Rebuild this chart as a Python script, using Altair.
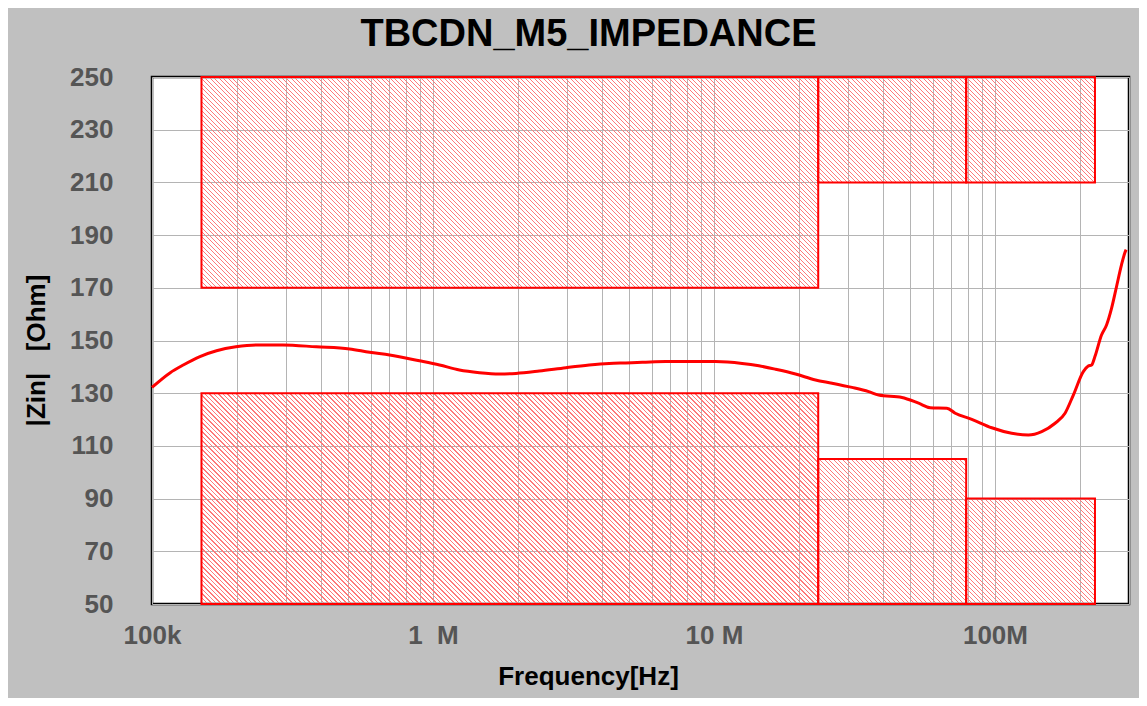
import math
import pandas as pd
import altair as alt

# ---------------- data ----------------
freq_hz = [1.0e5, 1.158e5, 1.292e5, 1.481e5, 1.697e5, 1.988e5, 2.355e5, 2.92e5, 3.847e5,
           5.05e5, 5.95e5, 7.01e5, 8.95e5, 1.055e6, 1.242e6, 1.463e6, 1.723e6, 1.975e6,
           2.389e6, 2.973e6, 3.597e6, 4.236e6, 4.857e6, 5.565e6, 6.737e6, 8.374e6, 1.014e7,
           1.26e7, 1.445e7, 1.657e7, 1.951e7, 2.298e7, 2.632e7, 3.099e7, 3.553e7, 3.856e7,
           4.667e7, 5.35e7, 5.886e7, 6.744e7, 7.222e7, 8.272e7, 9.742e7, 1.147e8, 1.315e8,
           1.467e8, 1.637e8, 1.776e8, 1.901e8, 2.063e8, 2.148e8, 2.208e8, 2.269e8, 2.395e8,
           2.496e8, 2.6e8, 2.708e8, 2.821e8, 2.9e8, 2.93e8]
zin_ohm = [132.2, 137.7, 140.7, 143.9, 146.1, 147.6, 148.3, 148.3, 147.6,
           146.8, 145.5, 144.5, 142.3, 140.7, 138.8, 137.8, 137.3, 137.5,
           138.4, 139.7, 140.7, 141.3, 141.5, 141.7, 142.0, 142.0, 142.0,
           141.3, 140.4, 139.1, 137.3, 135.0, 133.8, 132.2, 130.6, 129.3,
           128.4, 126.2, 124.5, 124.3, 122.4, 120.1, 116.9, 114.8, 114.1,
           115.4, 118.6, 122.4, 129.3, 138.2, 140.3, 140.7, 143.9, 152.1,
           155.9, 162.2, 170.4, 178.7, 183.3, 184.5]

# mask boxes (forbidden regions)
box_f_start = [1.5e5, 2.35e7, 7.9e7, 1.5e5, 2.35e7, 7.9e7]
box_f_end = [2.35e7, 7.9e7, 2.27e8, 2.35e7, 7.9e7, 2.27e8]
box_low = [170, 210, 210, 50, 50, 50]
box_high = [250, 250, 250, 130, 105, 90]

x_domain = [1e5, 3e8]
y_domain = [50, 250]
x_grid_values = [m * 10 ** e for e in (5, 6, 7) for m in range(1, 10)] + [1e8, 2e8, 3e8]
y_tick_values = list(range(50, 251, 20))

# ---------------- layout / style ----------------
W, H = 977, 527
FONT = "Liberation Sans"
RED = "#ff0000"


def px_x(f):
    return W * (math.log10(f) - math.log10(x_domain[0])) / (math.log10(x_domain[1]) - math.log10(x_domain[0]))


def px_y(v):
    return H * (v - y_domain[0]) / (y_domain[1] - y_domain[0])


def hatch(w, h, period=4.5, thick=1.1, color="#ff7a7a"):
    """45 degree '\\' hatch as a linear gradient relative to the rect bbox."""
    L = w + h
    c = L * w / (w * w + h * h)
    clear = "rgba(255,255,255,0)"
    stops = [{"offset": 0, "color": clear}]
    i = 0
    while True:
        a = (i * period + 1.5) / L
        b = a + thick / L
        if b >= 1:
            break
        a, b = round(a, 6), round(b, 6)
        stops += [{"offset": a, "color": clear}, {"offset": a, "color": color},
                  {"offset": b, "color": color}, {"offset": b, "color": clear}]
        i += 1
    stops.append({"offset": 1, "color": clear})
    return {"gradient": "linear", "x1": 0, "y1": 1, "x2": round(c, 6),
            "y2": round(1 - c * h / w, 6), "stops": stops}


label_expr = ("datum.value == 100000 ? '100k' : datum.value == 1000000 ? '1\u00a0\u00a0M' : "
              "datum.value == 10000000 ? '10\u00a0M' : datum.value == 100000000 ? '100M' : ''")

x_axis = alt.Axis(values=x_grid_values, labelExpr=label_expr, grid=True, ticks=False, domain=False,
                  labelFlush=False, labelOverlap=False, labelPadding=18,
                  labelFont=FONT, labelFontSize=26, labelFontWeight="bold", labelColor="#555555",
                  gridColor="#b4b4b4", gridWidth=1,
                  title="Frequency[Hz]", titleFont=FONT, titleFontSize=26, titleFontWeight="bold",
                  titleColor="#000000", titleX=436, titleY=80, titleAlign="center",
                  titleBaseline="alphabetic", titleAnchor="start")
y_axis = alt.Axis(values=y_tick_values, grid=True, ticks=False, domain=False, labelPadding=39,
                  labelFont=FONT, labelFontSize=26, labelFontWeight="bold", labelColor="#555555",
                  gridColor="#b4b4b4", gridWidth=1,
                  title="|Zin|\u00a0\u00a0\u00a0[Ohm]", titleFont=FONT, titleFontSize=26,
                  titleFontWeight="bold", titleColor="#000000", titleAngle=270,
                  titleX=-116, titleY=273, titleAlign="center", titleBaseline="middle",
                  titleAnchor="start")

x_scale = alt.Scale(type="log", domain=x_domain, nice=False)
y_scale = alt.Scale(domain=y_domain, nice=False, zero=False)

layers = []
for i in range(len(box_f_start)):
    df = pd.DataFrame({"f": [box_f_start[i]], "f2": [box_f_end[i]],
                       "lo": [box_low[i]], "hi": [box_high[i]]})
    w = px_x(box_f_end[i]) - px_x(box_f_start[i])
    h = px_y(box_high[i]) - px_y(box_low[i])
    layers.append(
        alt.Chart(df).mark_rect(fill=hatch(w, h), stroke=RED, strokeWidth=2).encode(
            x=alt.X("f:Q", scale=x_scale, axis=x_axis),
            x2="f2:Q",
            y=alt.Y("lo:Q", scale=y_scale, axis=y_axis),
            y2="hi:Q",
        )
    )

curve_df = pd.DataFrame({"f": freq_hz, "z": zin_ohm})
curve = alt.Chart(curve_df).mark_line(color=RED, strokeWidth=3, interpolate="monotone").encode(
    x=alt.X("f:Q", scale=x_scale, axis=x_axis),
    y=alt.Y("z:Q", scale=y_scale, axis=y_axis),
)
layers.append(curve)

chart = alt.layer(*layers).properties(
    width=W, height=H,
    autosize=alt.AutoSizeParams(type="none"),
    padding={"left": 144, "top": 69, "right": 10, "bottom": 94},
    title=alt.TitleParams("TBCDN_M5_IMPEDANCE", font=FONT, fontSize=38, fontWeight="bold",
                          color="#000000", anchor="middle", dx=-52, dy=40, offset=20,
                          baseline="alphabetic"),
).configure(background="#c0c0c0").configure_view(fill="#ffffff", stroke="#000000", strokeWidth=2.5)

chart.save("out.html", embed_options={"renderer": "svg", "actions": False})
